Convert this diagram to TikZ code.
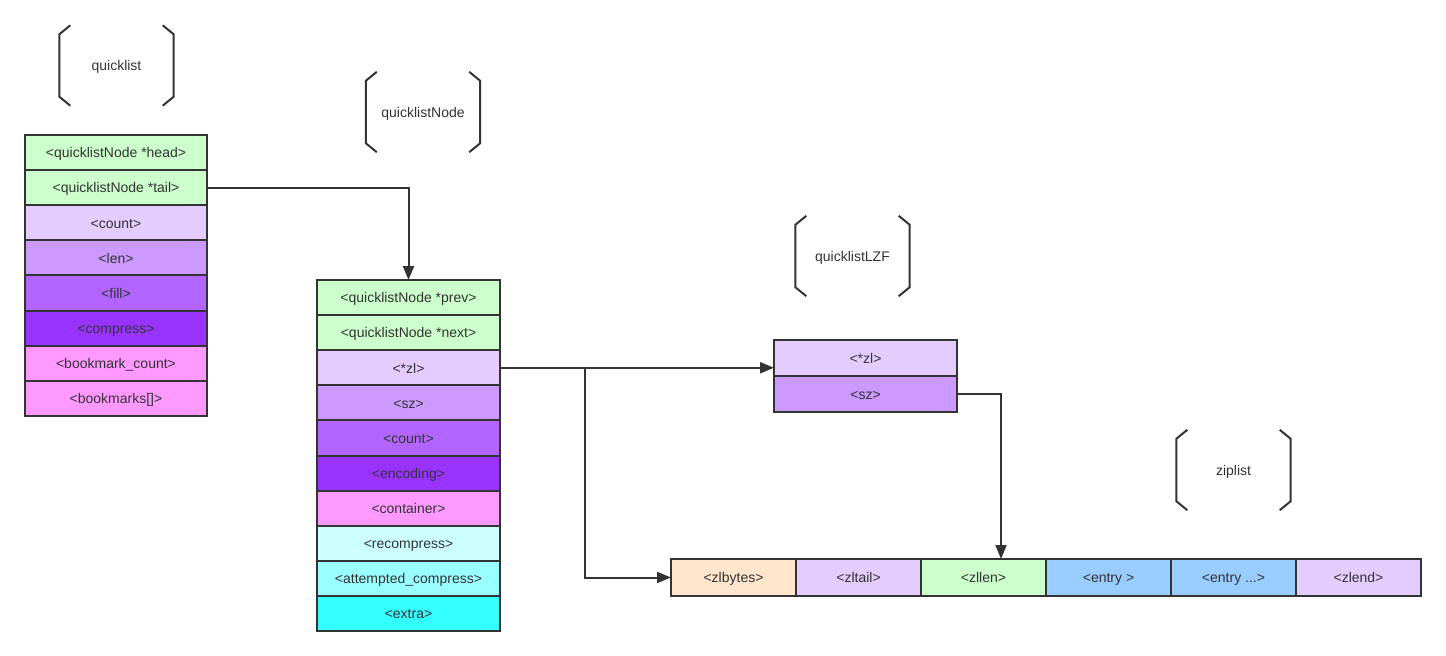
\documentclass[tikz,border=0pt]{standalone}
\usepackage{fontspec}
\setmainfont{Liberation Sans}
\usetikzlibrary{arrows.meta}
\definecolor{ink}{HTML}{333333}
\definecolor{mint}{HTML}{CCFFCC}
\definecolor{lilac}{HTML}{E5CCFF}
\definecolor{violetA}{HTML}{CC99FF}
\definecolor{violetB}{HTML}{B266FF}
\definecolor{violetC}{HTML}{9933FF}
\definecolor{pinkA}{HTML}{FF99FF}
\definecolor{cyanA}{HTML}{CCFFFF}
\definecolor{cyanB}{HTML}{99FFFF}
\definecolor{cyanC}{HTML}{33FFFF}
\definecolor{peach}{HTML}{FFE6CC}
\definecolor{sky}{HTML}{99CCFF}
\tikzset{
  field/.style={draw=ink, line width=2pt, text=ink, inner sep=0pt, outer sep=0pt,
    anchor=north west, text height=2ex, text depth=0pt, font=\fontsize{14}{16}\selectfont},
  qlfield/.style={field, minimum width=182pt, minimum height=35.1pt},
  qnfield/.style={field, minimum width=183pt, minimum height=35.1pt},
  lzffield/.style={field, minimum width=183pt, minimum height=36pt},
  zipfield/.style={field, minimum width=125pt, minimum height=37pt},
  title/.style={text=ink, minimum width=114pt, minimum height=80pt, text height=2ex, text depth=0pt,
    font=\fontsize{14}{16}\selectfont},
  brace/.style={draw=ink, line width=2pt},
  link/.style={draw=ink, line width=2pt, -{Triangle[length=14pt,width=11pt]}}
}
\begin{document}
\begin{tikzpicture}[x=1pt,y=-1pt]
	\useasboundingbox (0,0) rectangle (1446,656);
	% titles
	\node (tql)  at ( 116.5,  65.5)	[title]	{quicklist};
	\node (tqn)  at ( 423,   112)	[title]	{quicklistNode};
	\node (tlzf) at ( 852.5, 256)	[title]	{quicklistLZF};
	\node (tzip) at (1233.5, 470)	[title]	{ziplist};
	\foreach \t in {tql,tqn,tlzf,tzip} {
		\draw[brace] ([xshift=11pt]\t.north west) -- ++(-11,9) -- ([yshift=9pt]\t.south west) -- ++(11,9);
		\draw[brace] ([xshift=-11pt]\t.north east) -- ++(11,9) -- ([yshift=9pt]\t.south east) -- ++(-11,9);
	}
	% quicklist
	\node (head)  at (25, 135)	[qlfield, fill = mint]	{<quicklistNode *head>};
	\node (tail)  at (25, 170.1)	[qlfield, fill = mint]	{<quicklistNode *tail>};
	\node (count) at (25, 205.2)	[qlfield, fill = lilac]	{<count>};
	\node (len)   at (25, 240.3)	[qlfield, fill = violetA]	{<len>};
	\node (fill)  at (25, 275.4)	[qlfield, fill = violetB]	{<fill>};
	\node (comp)  at (25, 310.5)	[qlfield, fill = violetC]	{<compress>};
	\node (bmcnt) at (25, 345.6)	[qlfield, fill = pinkA]	{<bookmark\_count>};
	\node (bms)   at (25, 380.7)	[qlfield, fill = pinkA]	{<bookmarks[]>};
	% quicklistNode
	\node (prev)  at (317, 280)	[qnfield, fill = mint]	{<quicklistNode *prev>};
	\node (next)  at (317, 315.1)	[qnfield, fill = mint]	{<quicklistNode *next>};
	\node (zl)    at (317, 350.2)	[qnfield, fill = lilac]	{<*zl>};
	\node (sz)    at (317, 385.3)	[qnfield, fill = violetA]	{<sz>};
	\node (ncount) at (317, 420.4)	[qnfield, fill = violetB]	{<count>};
	\node (enc)   at (317, 455.5)	[qnfield, fill = violetC]	{<encoding>};
	\node (cont)  at (317, 490.6)	[qnfield, fill = pinkA]	{<container>};
	\node (recomp) at (317, 525.7)	[qnfield, fill = cyanA]	{<recompress>};
	\node (att)   at (317, 560.8)	[qnfield, fill = cyanB]	{<attempted\_compress>};
	\node (extra) at (317, 595.9)	[qnfield, fill = cyanC]	{<extra>};
	% quicklistLZF
	\node (lzfzl) at (774, 340)	[lzffield, fill = lilac]	{<*zl>};
	\node (lzfsz) at (774, 376)	[lzffield, fill = violetA]	{<sz>};
	% ziplist
	\node (zlbytes) at ( 671, 559)	[zipfield, fill = peach]	{<zlbytes>};
	\node (zltail)  at ( 796, 559)	[zipfield, fill = lilac]	{<zltail>};
	\node (zllen)   at ( 921, 559)	[zipfield, fill = mint]	{<zllen>};
	\node (entry)   at (1046, 559)	[zipfield, fill = sky]	{<entry >};
	\node (entries) at (1171, 559)	[zipfield, fill = sky]	{<entry ...>};
	\node (zlend)   at (1296, 559)	[zipfield, fill = lilac]	{<zlend>};
	% links
	\draw[link] (tail.east) -| (prev.north);
	\draw[link] (zl.east) -- (zl.east -| lzfzl.west);
	\draw[link] (zl.east) -- ++(85,0) |- (zlbytes.west);
	\draw[link] (lzfsz.east) -| ([xshift=17.5pt]zllen.north);
\end{tikzpicture}
\end{document}
